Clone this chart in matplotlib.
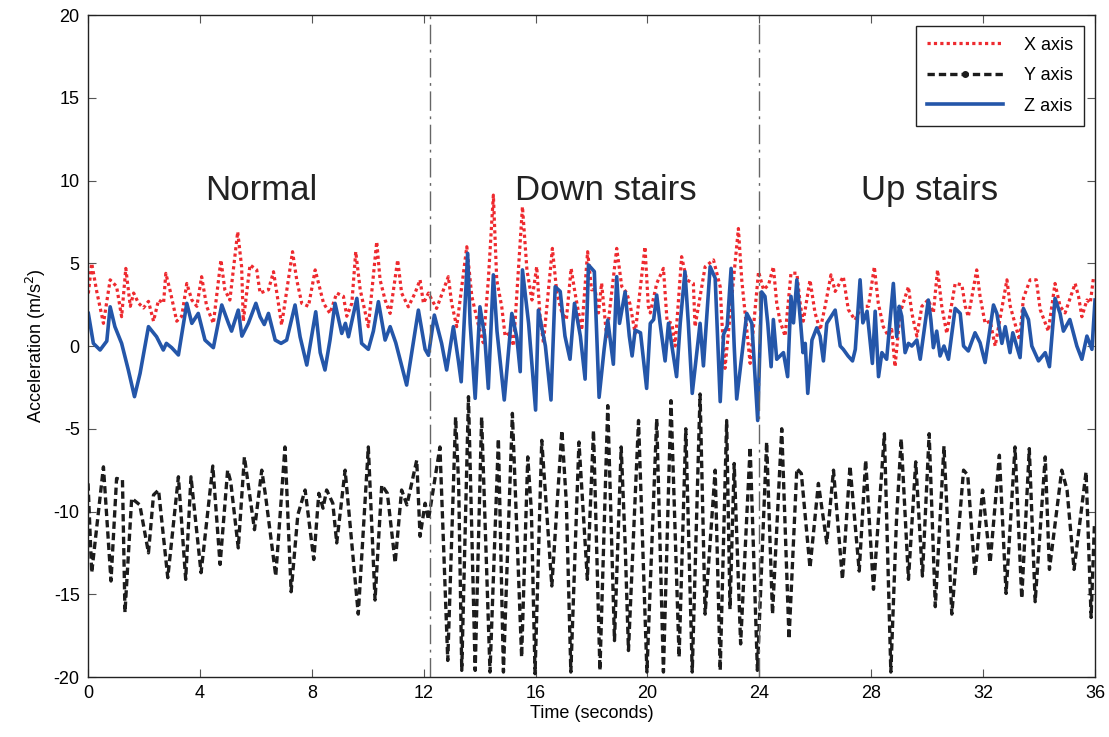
import numpy as np
import matplotlib.pyplot as plt
from matplotlib.lines import Line2D

plt.rcParams['font.family'] = ['Liberation Sans', 'DejaVu Sans']
plt.rcParams['axes.unicode_minus'] = False

# values (peaks / troughs of each trace)
t_x = [0.01, 0.13, 0.31, 0.55, 0.79, 1.02, 1.2, 1.35, 1.51, 1.63, 1.8, 1.98, 2.16, 2.34, 2.52, 2.7,
       2.78, 2.94, 3.17, 3.35, 3.53, 3.71, 3.89, 4.06, 4.24, 4.48, 4.75, 4.89, 5.07, 5.35, 5.49, 5.55,
       5.79, 6.03, 6.15, 6.45, 6.63, 6.75, 6.92, 7.31, 7.46, 7.64, 7.88, 8.12, 8.3, 8.42, 8.65, 8.89,
       9.13, 9.25, 9.43, 9.57, 9.73, 10.02, 10.32, 10.44, 10.62, 10.8, 11.07, 11.21, 11.45, 11.69,
       11.87, 11.99, 12.17, 12.29, 12.46, 12.88, 13.0, 13.18, 13.54, 13.72, 13.94, 14.13, 14.31,
       14.49, 14.61, 14.79, 14.91, 15.09, 15.21, 15.53, 15.69, 15.87, 16.04, 16.16, 16.28, 16.6,
       16.76, 16.94, 17.1, 17.27, 17.41, 17.65, 17.86, 18.0, 18.13, 18.25, 18.36, 18.54, 18.9,
       19.08, 19.26, 19.38, 19.56, 19.91, 20.03, 20.1, 20.33, 20.57, 20.7, 20.87, 20.99, 21.22,
       21.4, 21.64, 21.7, 22.06, 22.36, 22.6, 22.66, 22.77, 23.25, 23.37, 23.67, 23.97, 24.15,
       24.33, 24.5, 24.62, 24.74, 24.92, 25.13, 25.34, 25.47, 25.57, 25.81, 25.99, 26.17, 26.35,
       26.56, 26.71, 27.0, 27.18, 27.42, 27.66, 27.9, 28.11, 28.25, 28.43, 28.61, 28.73, 28.85,
       29.03, 29.33, 29.45, 29.63, 29.81, 30.04, 30.22, 30.37, 30.52, 30.7, 31.0, 31.24, 31.36,
       31.47, 31.77, 31.89, 32.07, 32.25, 32.43, 32.85, 32.97, 33.3, 33.44, 33.68, 33.9, 34.04,
       34.33, 34.57, 34.75, 34.93, 35.29, 35.41, 35.53, 35.71, 35.83, 35.95]
x_axis = [3.18, 5.0, 3.3, 1.37, 4.0, 3.6, 1.77, 4.69, 2.4, 3.2, 2.6, 2.3, 2.7, 1.5, 2.78, 2.6,
          4.39, 3.3, 1.5, 1.8, 3.78, 2.78, 2.4, 4.19, 2.4, 1.37, 5.2, 3.4, 2.78, 6.9, 4.79, 1.5,
          4.9, 4.6, 3.2, 3.4, 4.49, 3.2, 1.27, 5.7, 4.0, 2.58, 2.4, 4.6, 3.4, 2.58, 1.97, 3.2,
          3.0, 1.8, 2.58, 5.7, 3.4, 1.17, 6.3, 4.0, 2.78, 1.97, 5.2, 3.2, 2.37, 3.2,
          4.0, 2.58, 3.2, 2.8, 2.27, 4.19, 2.58, 1.17, 6.0, 3.0, 1.37, 0.2, 4.0,
          9.12, 4.0, 2.37, 0.6, 0.8, 0.0, 8.42, 4.6, 2.78, 4.8, 1.77, 0.2, 5.9,
          3.2, 2.0, 1.6, 4.69, 3.2, 0.96, 5.7, 3.4, 3.4, 2.0, 3.8, 0.56, 5.9,
          3.6, 3.2, 2.5, 0.76, 6.0, 2.4, 2.0, 3.78, 4.69, 1.5, 1.37, 0.0, 5.4,
          4.0, 3.78, 1.17, 4.79, 5.2, 3.58, 1.5, -1.35, 7.1, 4.0, -1.05, 4.49, 3.4,
          3.7, 4.79, 2.6, 1.5, 0.6, 4.4, 4.4, 2.4, 1.5, 3.98, 2.0, 0.96, 2.4,
          4.3, 3.3, 4.2, 2.2, 1.57, 2.4, 2.4, 4.79, 2.6, 1.17, 0.6, 1.0, -1.25,
          2.0, 3.58, 2.0, 0.6, 2.4, 2.8, 2.0, 4.6, 2.4, 0.76, 3.78, 3.7, 2.4,
          1.77, 4.6, 3.0, 1.37, 1.5, 0.0, 4.0, 2.4, 0.36, 2.9, 4.0, 4.0, 2.2,
          0.9, 3.78, 2.4, 2.0, 3.78, 3.0, 1.77, 2.78, 2.6, 4.19]

t_y = [0.0, 0.13, 0.55, 0.82, 1.02, 1.23, 1.32, 1.56, 1.85, 2.16, 2.34, 2.52, 2.85, 3.23, 3.49,
       3.68, 4.04, 4.46, 4.72, 4.99, 5.1, 5.37, 5.59, 5.95, 6.21, 6.35, 6.71, 7.04, 7.26, 7.5,
       7.76, 8.07, 8.25, 8.4, 8.53, 8.75, 8.89, 9.19, 9.66, 10.02, 10.26, 10.5, 10.7, 10.98,
       11.21, 11.4, 11.75, 11.87, 12.05, 12.17, 12.58, 12.86, 13.14, 13.25, 13.36, 13.6, 13.84,
       14.07, 14.37, 14.67, 14.85, 15.17, 15.5, 15.72, 15.85, 15.98, 16.22, 16.58, 16.94, 17.1,
       17.26, 17.55, 17.85, 18.07, 18.3, 18.58, 18.82, 19.06, 19.2, 19.32, 19.68, 19.98, 20.33,
       20.57, 20.84, 21.13, 21.37, 21.6, 21.88, 22.06, 22.42, 22.6, 22.83, 22.95, 23.1, 23.33,
       23.67, 23.93, 24.26, 24.47, 24.8, 25.06, 25.34, 25.5, 25.81, 26.11, 26.41, 26.65, 26.97,
       27.24, 27.57, 27.8, 28.08, 28.47, 28.7, 28.9, 29.07, 29.33, 29.59, 29.83, 30.07, 30.29,
       30.6, 30.88, 31.3, 31.45, 31.71, 31.98, 32.25, 32.58, 32.82, 33.14, 33.38, 33.65, 33.86,
       34.22, 34.37, 34.81, 35.0, 35.25, 35.68, 35.86, 35.98]
y_axis = [-8.3, -13.7, -7.3, -14.2, -8.0, -8.1, -16.1, -9.2, -9.6, -12.5, -9.0, -8.7, -14.0, -7.9, -14.1,
          -7.9, -13.7, -7.25, -13.2, -7.5, -8.2, -12.2, -6.7, -11.1, -7.5, -9.1, -13.9, -6.1, -14.85, -10.2,
          -8.7, -12.9, -8.9, -9.8, -8.7, -9.5, -11.9, -7.5, -16.2, -6.1, -15.35, -8.4, -8.9, -13.1,
          -8.7, -9.6, -6.9, -11.5, -9.5, -10.5, -6.1, -19.0, -4.3, -8.4, -19.6, -3.06, -19.6,
          -4.3, -19.7, -5.6, -19.7, -4.07, -18.8, -6.7, -10.0, -19.8, -5.7, -14.5, -5.1, -9.5,
          -19.7, -5.8, -14.1, -5.1, -19.6, -3.6, -17.8, -6.1, -11.9, -18.4, -4.5, -19.7, -4.4,
          -19.7, -3.3, -18.8, -5.0, -19.7, -2.9, -16.2, -7.5, -19.6, -4.5, -15.9, -7.1, -18.0,
          -6.1, -19.6, -5.8, -16.2, -5.0, -17.7, -7.4, -7.7, -13.4, -8.3, -11.9, -7.5, -14.1,
          -7.25, -13.6, -6.9, -14.7, -5.3, -19.7, -10.6, -5.6, -14.1, -7.0, -13.9, -5.3, -15.75,
          -6.05, -16.2, -7.5, -7.8, -13.9, -8.7, -13.1, -6.6, -14.95, -6.1, -15.25, -6.2, -15.45,
          -6.7, -13.5, -7.5, -8.7, -13.5, -7.6, -16.4, -10.7]

t_z = [0.01, 0.19, 0.43, 0.67, 0.79, 0.96, 1.2, 1.44, 1.66, 1.86, 2.16, 2.45, 2.69, 2.8, 2.99, 3.23,
       3.53, 3.71, 3.94, 4.18, 4.48, 4.78, 5.02, 5.13, 5.37, 5.5, 5.73, 6.0, 6.15, 6.3, 6.45, 6.69,
       6.9, 7.1, 7.4, 7.58, 7.82, 8.14, 8.3, 8.47, 8.65, 8.83, 9.07, 9.2, 9.31, 9.61, 9.78, 10.02,
       10.2, 10.38, 10.62, 10.8, 11.0, 11.39, 11.57, 11.81, 12.05, 12.17, 12.38, 12.64, 12.82,
       13.06, 13.24, 13.34, 13.57, 13.66, 13.84, 14.01, 14.18, 14.31, 14.49, 14.62, 14.88, 15.15,
       15.33, 15.45, 15.53, 15.75, 16.0, 16.1, 16.35, 16.55, 16.7, 16.88, 17.05, 17.23, 17.39,
       17.6, 17.77, 17.89, 18.1, 18.27, 18.45, 18.58, 18.78, 18.9, 19.0, 19.2, 19.35, 19.45,
       19.56, 19.75, 19.97, 20.1, 20.22, 20.33, 20.45, 20.63, 20.75, 21.04, 21.17, 21.34, 21.46,
       21.6, 21.88, 22.0, 22.24, 22.42, 22.6, 22.72, 22.85, 22.99, 23.1, 23.19, 23.55, 23.73,
       23.94, 24.08, 24.2, 24.3, 24.42, 24.5, 24.62, 24.86, 25.01, 25.13, 25.22, 25.34, 25.47,
       25.56, 25.64, 25.73, 25.88, 26.05, 26.17, 26.29, 26.41, 26.71, 26.89, 27.0, 27.17, 27.33,
       27.43, 27.6, 27.7, 27.85, 28.04, 28.14, 28.26, 28.38, 28.55, 28.79, 28.91, 29.0, 29.09,
       29.21, 29.33, 29.45, 29.63, 29.75, 30.04, 30.13, 30.22, 30.34, 30.46, 30.6, 30.76, 31.0,
       31.18, 31.3, 31.47, 31.71, 31.89, 32.07, 32.37, 32.49, 32.67, 32.79, 32.96, 33.06, 33.32,
       33.44, 33.62, 33.74, 33.98, 34.22, 34.37, 34.57, 34.75, 34.87, 35.1, 35.35, 35.53, 35.71,
       35.89, 36.0]
z_axis = [1.97, 0.16, -0.24, 0.3, 2.37, 1.17, 0.16, -1.45, -3.06, -1.65, 1.17, 0.56, -0.24, 0.16, -0.1, -0.54,
          2.58, 1.37, 1.97, 0.36, -0.1, 2.48, 1.37, 0.9, 2.17, 0.6, 1.37, 2.58, 1.77, 1.3, 1.97, 0.36,
          0.16, 0.36, 2.48, 0.56, -1.15, 2.07, -0.4, -1.45, 0.36, 2.58, 0.76, 1.37, 0.56, 2.88, 0.16, -0.2,
          0.9, 2.68, 0.36, 1.17, 0.2, -2.36, -0.4, 2.17, -0.2, -0.56, 1.87, 0.16, -1.45,
          1.17, -0.9, -2.16, 5.6, 1.37, -3.16, 2.37, 0.6, -2.56, 4.3, 0.9, -3.26, 1.97,
          0.5, -1.55, 4.6, 1.37, -3.87, 2.17, 0.0, -3.26, 3.58, 3.3, 0.6, -0.8, 2.58,
          0.6, -2.0, 4.9, 4.5, -3.1, -0.2, 1.57, -1.1, 4.19, 1.37, 3.27, 0.6, -0.6,
          0.96, 0.8, -2.56, 1.37, 1.6, 3.08, 1.37, -0.9, 1.37, -1.85, 1.37, 4.49, 1.37,
          -2.86, 1.37, -1.2, 4.79, 4.1, -3.36, 0.7, 1.2, 4.69, 0.0, -3.2, 1.97, 1.37,
          -4.5, 3.27, 3.0, 1.37, -1.25, 1.6, -0.8, -0.4, -1.85, 3.0, 1.4, 4.0, 1.5,
          -0.4, 0.16, -2.86, 0.36, 1.1, 0.6, -0.9, 1.37, 2.17, 0.0, -0.2, -0.6, -0.9,
          -0.2, 4.0, 1.4, 2.1, -1.05, 2.1, -1.85, -0.4, -0.8, 3.78, 0.56, 2.4, 1.8,
          -0.4, 0.16, 0.0, 0.36, -0.8, 2.78, 1.6, -0.1, 0.9, -0.6, 0.0, -0.8, 2.27,
          1.97, 0.0, -0.3, 0.8, 0.2, -1.0, 2.48, 1.97, 0.16, 1.17, -0.4, 0.8, -0.7,
          2.27, 1.6, 0.0, -0.9, -0.4, -1.25, 2.88, 1.97, 0.9, 1.6, 0.0, -0.8, 0.6,
          -0.2, 2.78]

phase_edges = [12.23, 23.99]
phase_names = ['Normal', 'Down stairs', 'Up stairs']
phase_centers = [6.2, 18.5, 30.1]

red = '#ee2a2f'
blue = '#2456a9'
black = '#1c1c1c'

fig = plt.figure(figsize=(11.09, 7.37), dpi=100)
ax = fig.add_axes([0.0794, 0.0814, 0.9080, 0.8982])

ax.plot(t_x, x_axis, color=red, lw=2.3, ls=(0, (1, 1)), solid_joinstyle='round')
ax.plot(t_y, y_axis, color=black, lw=2.4, ls=(0, (2.2, 1.2)), dash_joinstyle='round')
ax.plot(t_z, z_axis, color=blue, lw=2.6, solid_joinstyle='round')

for e in phase_edges:
    ax.axvline(e, color='#666666', lw=1.0, ls=(0, (14, 4, 2, 4)))
for c, name in zip(phase_centers, phase_names):
    ax.text(c, 9.4, name, fontsize=25, ha='center', va='center', color='#222222')

ax.set_xlim(0, 36)
ax.set_ylim(-20, 20)
ax.set_xticks(range(0, 37, 4))
ax.set_yticks(range(-20, 21, 5))
ax.tick_params(direction='in', top=True, right=True, labelsize=13, length=6,
               color='#555555', pad=6)
for s in ax.spines.values():
    s.set_color('#222222')
    s.set_linewidth(1.0)
ax.set_xlabel('Time (seconds)', fontsize=13, labelpad=2)
ax.set_ylabel('Acceleration (m/s$^2$)', fontsize=13, labelpad=4)

handles = [Line2D([], [], color=red, lw=2.3, ls=(0, (1, 1))),
           Line2D([], [], color=black, lw=2.4, ls=(0, (2.2, 1.2)), marker='o', markersize=4),
           Line2D([], [], color=blue, lw=2.6)]
leg = ax.legend(handles, ['X axis', 'Y axis', 'Z axis'], loc='upper right', fontsize=13,
                handlelength=4.2, handletextpad=1.2, labelspacing=0.75, borderpad=0.6,
                frameon=True, fancybox=False, edgecolor='#222222', framealpha=1,
                borderaxespad=0.6, numpoints=1)
leg.get_frame().set_linewidth(1.0)

fig.savefig('out.png', dpi=100)
